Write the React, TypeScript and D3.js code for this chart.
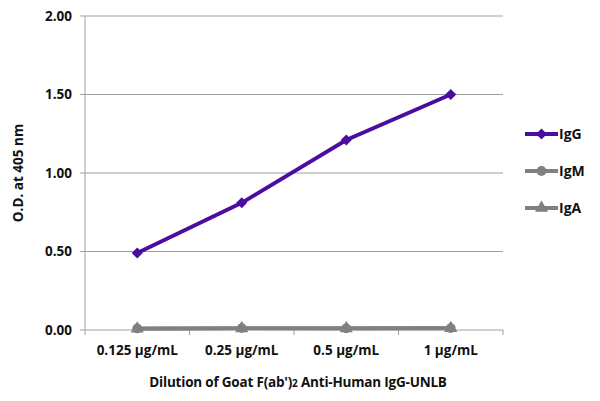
import React from "react";
import * as d3 from "d3";

const categories = ["0.125 µg/mL", "0.25 µg/mL", "0.5 µg/mL", "1 µg/mL"];
const igG = [0.49, 0.81, 1.21, 1.5];
const igM = [0.01, 0.012, 0.011, 0.012];
const igA = [0.008, 0.01, 0.01, 0.011];
const yTicks = [0, 0.5, 1, 1.5, 2];

const series = [
  { name: "IgG", values: igG, color: "#4b0ca0", shape: "diamond" },
  { name: "IgM", values: igM, color: "#808080", shape: "circle" },
  { name: "IgA", values: igA, color: "#808080", shape: "triangle" },
];

const W = 600;
const H = 401;
const left = 85;
const right = 503;
const top = 16;
const bottom = 330;
const font = "'Open Sans', sans-serif";
const fs = 13.5;

function marker(shape: string, x: number, y: number, color: string, key: string) {
  if (shape === "diamond") {
    const r = 5.5;
    return (
      <path key={key} d={`M${x},${y - r}L${x + r},${y}L${x},${y + r}L${x - r},${y}Z`} fill={color} />
    );
  }
  const sym = shape === "circle" ? d3.symbolCircle : d3.symbolTriangle;
  const path = d3.symbol().type(sym).size(75)() as string;
  return <path key={key} d={path} transform={`translate(${x},${y})`} fill={color} />;
}

export default function App() {
  const x = d3.scaleBand<string>().domain(categories).range([left, right]);
  const y = d3.scaleLinear().domain([0, 2]).range([bottom, top]);
  const line = d3
    .line<number>()
    .x((_, i) => (x(categories[i]) as number) + x.bandwidth() / 2)
    .y((d) => y(d));
  const legendY = [134, 171, 208];
  const boundaries = categories.map((c) => x(c) as number).concat([right]);

  return (
    <svg width={W} height={H} style={{ position: "absolute", left: 0, top: 0 }}>
      <rect width={W} height={H} fill="#fff" />
      {yTicks.map((t) => (
        <g key={t}>
          {t > 0 && <line x1={left} x2={right} y1={y(t)} y2={y(t)} stroke="#a0a0a0" strokeWidth={1} />}
          <line x1={left - 5} x2={left} y1={y(t)} y2={y(t)} stroke="#a0a0a0" strokeWidth={1} />
          <text x={72} y={y(t)} dy="0.35em" textAnchor="end" fontFamily={font} fontWeight={700} fontSize={fs} fill="#111">
            {t.toFixed(2)}
          </text>
        </g>
      ))}
      <line x1={left} x2={left} y1={top} y2={bottom} stroke="#a0a0a0" strokeWidth={1} />
      <line x1={left} x2={right} y1={bottom} y2={bottom} stroke="#a0a0a0" strokeWidth={1} />
      {boundaries.map((b, i) => (
        <line key={i} x1={b} x2={b} y1={bottom} y2={bottom + 5} stroke="#a0a0a0" strokeWidth={1} />
      ))}
      {categories.map((c) => (
        <text key={c} x={(x(c) as number) + x.bandwidth() / 2} y={355} textAnchor="middle" fontFamily={font} fontWeight={700} fontSize={fs} fill="#111">
          {c}
        </text>
      ))}
      <text x={298} y={387} textAnchor="middle" fontFamily={font} fontWeight={700} fontSize={fs} fill="#111" letterSpacing={-0.2}>
        Dilution of Goat F(ab')<tspan fontSize={10}>2</tspan> Anti-Human IgG-UNLB
      </text>
      <text transform={`translate(23,${(top + bottom) / 2}) rotate(-90)`} textAnchor="middle" fontFamily={font} fontWeight={700} fontSize={fs} fill="#111">
        O.D. at 405 nm
      </text>
      {series
        .slice()
        .reverse()
        .map((s) => (
          <g key={s.name}>
            <path d={line(s.values) as string} fill="none" stroke={s.color} strokeWidth={3.8} />
            {s.values.map((v, i) =>
              marker(s.shape, (x(categories[i]) as number) + x.bandwidth() / 2, y(v), s.color, s.name + i)
            )}
          </g>
        ))}
      {series.map((s, i) => (
        <g key={s.name}>
          <line x1={525} x2={558} y1={legendY[i]} y2={legendY[i]} stroke={s.color} strokeWidth={3.8} />
          {marker(s.shape, 541.5, legendY[i], s.color, "lg" + i)}
          <text x={559} y={legendY[i]} dy="0.35em" fontFamily={font} fontWeight={700} fontSize={14} fill="#111">
            {s.name}
          </text>
        </g>
      ))}
    </svg>
  );
}
